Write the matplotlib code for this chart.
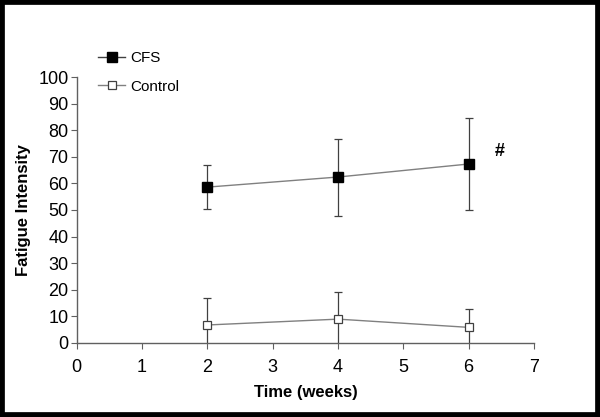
import matplotlib
matplotlib.use("Agg")
import matplotlib.pyplot as plt
from matplotlib.patches import Rectangle

plt.rcParams['font.family'] = ['Liberation Sans', 'DejaVu Sans']

weeks = [2, 4, 6]
cfs_mean = [58.6, 62.4, 67.3]
cfs_err = [8.3, 14.5, 17.4]
ctrl_mean = [6.7, 8.9, 5.8]
ctrl_err = [10.0, 10.3, 6.8]

fig = plt.figure(figsize=(6, 4.17), dpi=100)
ax = fig.add_axes([0.128, 0.178, 0.762, 0.637])

# error bars first, then lines + markers
ax.errorbar(weeks, cfs_mean, yerr=cfs_err, fmt='none', ecolor='#404040',
            elinewidth=0.9, capsize=3, capthick=0.9, zorder=2)
ax.errorbar(weeks, ctrl_mean, yerr=ctrl_err, fmt='none', ecolor='#404040',
            elinewidth=0.9, capsize=3, capthick=0.9, zorder=2)
ax.plot(weeks, cfs_mean, color='#808080', lw=1, zorder=3)
ax.plot(weeks, ctrl_mean, color='#808080', lw=1, zorder=3)
ax.plot(weeks, cfs_mean, 's', ms=6.8, mfc='black', mec='black', zorder=4)
ax.plot(weeks, ctrl_mean, 's', ms=6.3, mfc='white', mec='#404040', mew=0.9, zorder=4)

ax.text(6.4, 72, '#', fontsize=13, fontweight='bold', ha='left', va='center')

ax.set_xlim(0, 7)
ax.set_ylim(0, 100)
ax.set_xticks(range(0, 8))
ax.set_yticks(range(0, 101, 10))
for s in ['top', 'right']:
    ax.spines[s].set_visible(False)
for s in ['left', 'bottom']:
    ax.spines[s].set_color('#606060')
    ax.spines[s].set_linewidth(1)
ax.tick_params(direction='out', length=4, color='#606060', labelsize=13)
ax.tick_params(axis='x', pad=8)
ax.tick_params(axis='y', pad=2)
ax.set_xlabel('Time (weeks)', fontsize=12, fontweight='bold', labelpad=6)
ax.set_ylabel('Fatigue Intensity', fontsize=12, fontweight='bold', labelpad=5)

# legend above the plot area
h1, = ax.plot([], [], 's-', color='#404040', ms=6.5, mfc='black', mec='black', lw=1)
h2, = ax.plot([], [], 's-', color='#808080', ms=6.3, mfc='white', mec='#404040', mew=0.9, lw=1)
fig.legend([h1, h2], ['CFS', 'Control'], loc='upper left', bbox_to_anchor=(0.14, 0.91),
           frameon=False, fontsize=11, handlelength=1.8, handletextpad=0.3,
           labelspacing=0.95)

# black frame around the picture
fig.patches.append(Rectangle((0, 0), 1, 1, transform=fig.transFigure, fill=False,
                             edgecolor='black', lw=7, zorder=10))

fig.savefig('out.png', dpi=100)
